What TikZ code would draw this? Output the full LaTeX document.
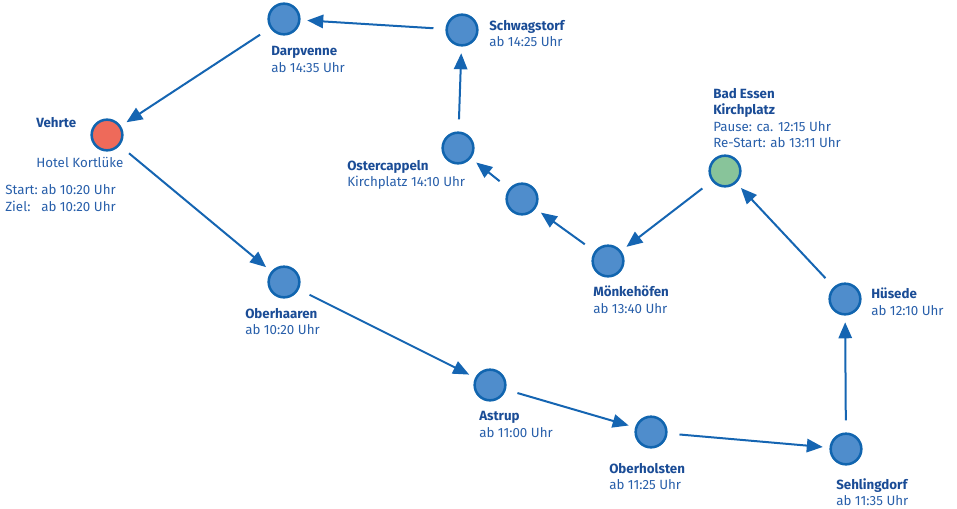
\documentclass[tikz,border=0pt]{standalone}
\usepackage{fontspec}
\setmainfont{Fira Sans}
\usetikzlibrary{arrows.meta}
\definecolor{stopfill}{RGB}{79,141,204}
\definecolor{stopline}{RGB}{17,101,175}
\definecolor{startfill}{RGB}{238,106,90}
\definecolor{pausefill}{RGB}{136,196,154}
\definecolor{routeline}{RGB}{21,101,178}
\definecolor{namecol}{RGB}{26,76,150}
\definecolor{infocol}{RGB}{40,95,170}

\begin{document}
\begin{tikzpicture}[x=0.75pt,y=-0.75pt,
    stop/.style={circle, draw=stopline, fill=stopfill, line width=1.9pt, minimum size=23pt, inner sep=0pt},
    route/.style={draw=routeline, line width=1.5pt, -{Triangle[length=12pt,width=10pt]}, shorten <=9pt, shorten >=5pt},
    place/.style={anchor=north west, inner sep=0pt, align=left, text=infocol, font=\fontsize{10}{12.4}\selectfont}]
    \useasboundingbox (0,0) rectangle (957,508);

    % Stops
    \node[stop, fill=startfill] (vehrte) at (107,135) {};
    \node[stop] (oberhaaren) at (284,282) {};
    \node[stop] (astrup) at (490,385) {};
    \node[stop] (oberholsten) at (651,432) {};
    \node[stop] (sehlingdorf) at (846,449) {};
    \node[stop] (huesede) at (845,299) {};
    \node[stop, fill=pausefill] (badessen) at (725,171) {};
    \node[stop] (moenkehoefen) at (608,261) {};
    \node[stop] (zwischen) at (522,199) {};
    \node[stop] (ostercappeln) at (458,148) {};
    \node[stop] (schwagstorf) at (462,30) {};
    \node[stop] (darpvenne) at (284,19) {};

    % Route
    \draw[route] (vehrte) -- (oberhaaren);
    \draw[route] (oberhaaren) -- (astrup);
    \draw[route] (astrup) -- (oberholsten);
    \draw[route] (oberholsten) -- (sehlingdorf);
    \draw[route] (sehlingdorf) -- (huesede);
    \draw[route] (huesede) -- (badessen);
    \draw[route] (badessen) -- (moenkehoefen);
    \draw[route] (moenkehoefen) -- (zwischen);
    \draw[route] (zwischen) -- (ostercappeln);
    \draw[route] (ostercappeln) -- (schwagstorf);
    \draw[route] (schwagstorf) -- (darpvenne);
    \draw[route] (darpvenne) -- (vehrte);

    % Labels
    \node[place] (vehrte-name) at (36,117) {\textbf{\color{namecol}Vehrte}};
    \node[place] (vehrte-hotel) at (36,157) {Hotel Kortlüke};
    \node[place] (vehrte-zeit) at (5,183) {\begin{tabular}{@{}l@{\ }l@{}}Start: & ab 10:20 Uhr\\Ziel: & ab 10:20 Uhr\end{tabular}};
    \node[place] (darpvenne-l) at (271,46) {\textbf{\color{namecol}Darpvenne}\\ab 14:35 Uhr};
    \node[place] (schwagstorf-l) at (489,20) {\textbf{\color{namecol}Schwagstorf}\\ab 14:25 Uhr};
    \node[place] (ostercappeln-l) at (347,160) {\textbf{\color{namecol}Ostercappeln}\\Kirchplatz 14:10 Uhr};
    \node[place] (badessen-l) at (713,88) {\textbf{\color{namecol}Bad Essen}\\\textbf{\color{namecol}Kirchplatz}\\Pause: ca. 12:15 Uhr\\Re-Start: ab 13:11 Uhr};
    \node[place] (moenkehoefen-l) at (593,286) {\textbf{\color{namecol}Mönkehöfen}\\ab 13:40 Uhr};
    \node[place] (huesede-l) at (871,288) {\textbf{\color{namecol}Hüsede}\\ab 12:10 Uhr};
    \node[place] (oberhaaren-l) at (245,308) {\textbf{\color{namecol}Oberhaaren}\\ab 10:20 Uhr};
    \node[place] (astrup-l) at (479,411) {\textbf{\color{namecol}Astrup}\\ab 11:00 Uhr};
    \node[place] (oberholsten-l) at (609,463) {\textbf{\color{namecol}Oberholsten}\\ab 11:25 Uhr};
    \node[place] (sehlingdorf-l) at (836,478) {\textbf{\color{namecol}Sehlingdorf}\\ab 11:35 Uhr};
\end{tikzpicture}
\end{document}
